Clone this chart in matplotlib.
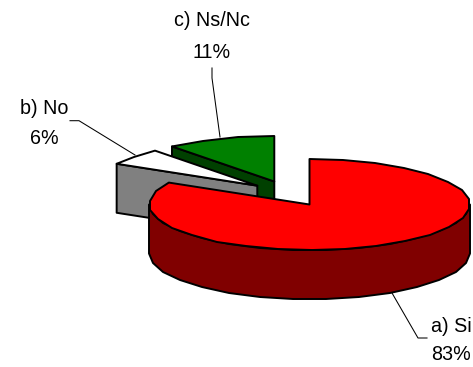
import numpy as np
import matplotlib
matplotlib.use("Agg")
import matplotlib.pyplot as plt
from matplotlib.patches import Polygon

categories = ["a) Si", "b) No", "c) Ns/Nc"]
shares = [83, 6, 11]
percent_labels = ["83%", "6%", "11%"]
top_colors = ["#ff0000", "#ffffff", "#008000"]
side_colors = ["#800000", "#808080", "#004000"]

# layout of the exploded 3-D pie, in pixels
centers = [(309.5, 204.5), (257.3, 185.7), (274.3, 181.5)]
RX, RY, DEPTH = 160.5, 45.5, 49
label_pos = [(451, 326, 354), (44, 108, 139), (212, 21, 52)]
leaders = [
    [(392, 293), (418, 338), (427, 338)],
    [(70, 120.7), (79, 120.7), (135, 155)],
    [(212, 68), (212, 78), (220, 137)],
]

W, H = 473, 367
fig = plt.figure(figsize=(W / 100, H / 100), dpi=100, facecolor="white")
ax = fig.add_axes([0, 0, 1, 1])
ax.set_xlim(0, W)
ax.set_ylim(H, 0)
ax.axis("off")

EDGE = dict(edgecolor="black", linewidth=1.4, joinstyle="round")


def arc(center, a0, a1, step=12.0):
    """Points on the ellipse; angle is clockwise from 12 o'clock, rounded to whole pixels."""
    n = max(2, int(round((a1 - a0) / step)) + 1)
    t = np.radians(np.linspace(a0, a1, n))
    x = center[0] + RX * np.sin(t)
    y = center[1] - RY * np.cos(t)
    pts = np.column_stack([x, y])
    pts[1:-1] = np.round(pts[1:-1] * 1.0)
    return pts


def poly(points, color, z):
    ax.add_patch(Polygon(points, closed=True, facecolor=color, zorder=z, **EDGE))


# angular extents from the shares, clockwise from the top
edges = np.concatenate([[0], np.cumsum(shares)]) / np.sum(shares) * 360
spans = list(zip(edges[:-1], edges[1:]))
down = np.array([0, DEPTH])

# painter's order: green, then white/grey, then red
for order, i in enumerate([2, 1, 0]):
    a0, a1 = spans[i]
    c = np.array(centers[i])
    z = 2 + order * 3
    if i == 0:
        # outer rim: the visible front half of the cylinder
        rim = arc(c, 90, 270)
        poly(np.vstack([rim, (rim + down)[::-1]]), side_colors[i], z)
    else:
        # cut face of the slice pointing towards the viewer
        p = arc(c, a0, a0 + 0.01, step=1)[0]
        poly([p, c, c + down, p + down], side_colors[i], z)
    top = arc(c, a0, a1)
    poly(np.vstack([[c], top]), top_colors[i], z + 1)

for pts in leaders:
    xs, ys = zip(*pts)
    ax.plot(xs, ys, color="black", lw=0.75, zorder=1, solid_joinstyle="miter")

for name, pct, (x, y1, y2) in zip(categories, percent_labels, label_pos):
    for s, y in ((name, y1), (pct, y2)):
        ax.text(x, y, s, ha="center", va="center", fontsize=14.2,
                family="Liberation Sans", color="black", zorder=20)

fig.savefig("out.png", dpi=100, facecolor="white")
